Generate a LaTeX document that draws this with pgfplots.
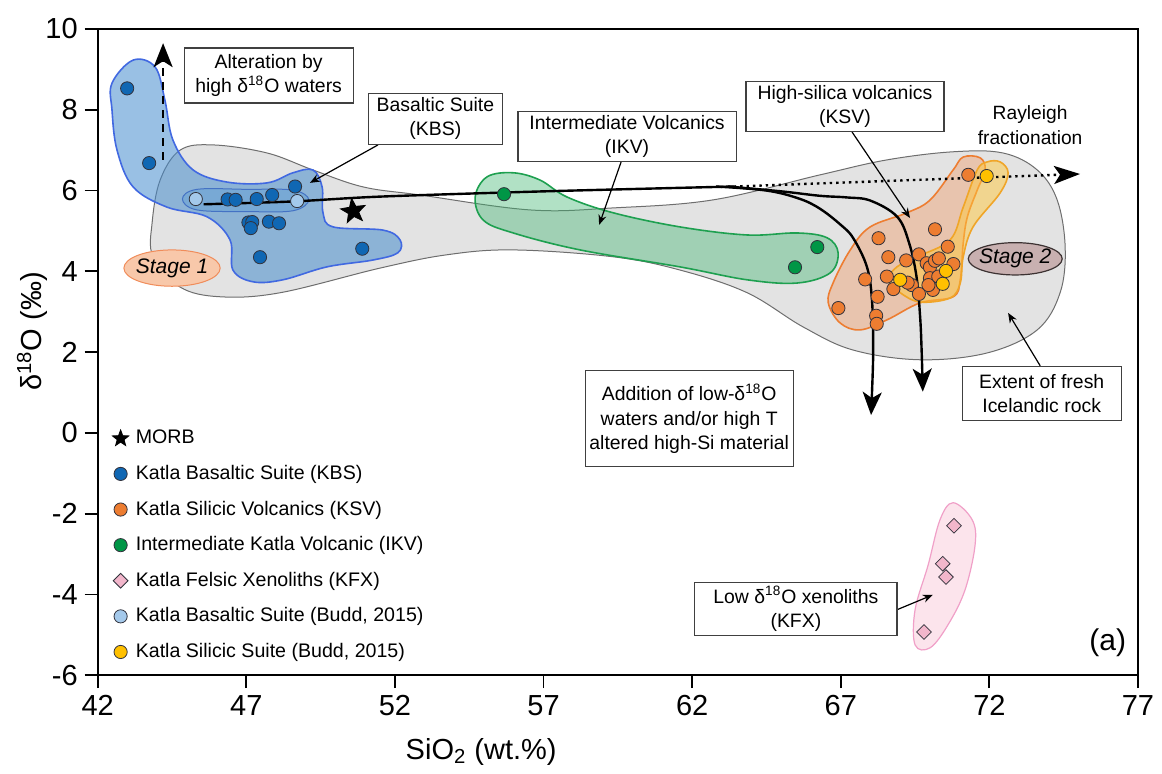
\documentclass[border=0pt]{standalone}
\usepackage{fontspec}
\setmainfont{Liberation Sans}
\usepackage{pgfplots}
\pgfplotsset{compat=1.18}
\usetikzlibrary{arrows.meta}

\definecolor{kbs}{RGB}{16,103,179}
\definecolor{ksv}{RGB}{237,125,49}
\definecolor{ikv}{RGB}{0,150,70}
\definecolor{kfx}{RGB}{242,182,203}
\definecolor{buddb}{RGB}{164,201,235}
\definecolor{budds}{RGB}{255,192,0}
\definecolor{mkline}{RGB}{50,50,60}

\pgfdeclareplotmark{fstar}{%
  \pgfpathmoveto{\pgfpointpolar{90}{\pgfplotmarksize}}%
  \pgfpathlineto{\pgfpointpolar{126}{0.42\pgfplotmarksize}}%
  \pgfpathlineto{\pgfpointpolar{162}{\pgfplotmarksize}}%
  \pgfpathlineto{\pgfpointpolar{198}{0.42\pgfplotmarksize}}%
  \pgfpathlineto{\pgfpointpolar{234}{\pgfplotmarksize}}%
  \pgfpathlineto{\pgfpointpolar{270}{0.42\pgfplotmarksize}}%
  \pgfpathlineto{\pgfpointpolar{306}{\pgfplotmarksize}}%
  \pgfpathlineto{\pgfpointpolar{342}{0.42\pgfplotmarksize}}%
  \pgfpathlineto{\pgfpointpolar{18}{\pgfplotmarksize}}%
  \pgfpathlineto{\pgfpointpolar{54}{0.42\pgfplotmarksize}}%
  \pgfpathclose\pgfusepathqfillstroke}

\tikzset{
  box/.style={draw=black!75, line width=0.6pt, fill=white, align=center,
    font=\fontsize{9.7}{12.2}\selectfont, inner sep=2pt},
  thinarrow/.style={line width=0.6pt, -{Stealth[length=5pt,width=4pt]}},
  bigarrow/.style={line width=1.2pt, -{Stealth[length=11.5pt,width=9.5pt,inset=3pt]}},
}

\begin{document}
\begin{tikzpicture}
\useasboundingbox (-48.85pt,-49pt) rectangle (532pt,337.5pt);
\begin{axis}[
  at={(0,0)}, anchor=south west,
  scale only axis, width=520pt, height=323pt,
  xmin=42, xmax=77, ymin=-6, ymax=10,
  xtick={42,47,52,57,62,67,72,77}, ytick={-6,-4,-2,0,2,4,6,8,10},
  xtick pos=bottom, ytick pos=left, tick align=outside,
  major tick length=6.5pt,
  axis line style={line width=0.9pt},
  every tick/.style={line width=0.9pt, black},
  ticklabel style={font=\fontsize{14.5}{16}\selectfont},
  /pgf/number format/assume math mode=true,
  clip=false,
  xlabel={SiO\textsubscript{2} (wt.\%)},
  ylabel={δ\textsuperscript{18}O (‰)},
  label style={font=\fontsize{14.5}{16}\selectfont},
  xlabel style={at={(axis description cs:0.3686,-0.119)}, anchor=center},
  ylabel style={at={(axis description cs:-0.063,0.532)}, anchor=center},
  legend style={at={(axis description cs:0.008,0.389)}, anchor=north west,
    draw=none, fill=none, font=\fontsize{9.8}{12}\selectfont,
    row sep=7.2pt, nodes={inner sep=1pt},
    /tikz/every odd column/.append style={column sep=2.5pt}},
  legend cell align=left,
  legend image code/.code={\draw[#1] plot coordinates {(5pt,0pt)};},
]

% ---------- envelopes ----------
\draw[fill={rgb,255:red,227;green,227;blue,227}, draw={rgb,255:red,110;green,110;blue,110}, line width=0.5pt]
  plot[smooth cycle, tension=0.6] coordinates {
  (44.10,6.26) (44.77,7.00) (45.88,7.13) (47.70,6.93) (49.24,6.51) (50.93,6.09)
  (52.85,5.89) (56.55,5.52) (59.34,5.57) (62.71,5.77) (66.31,6.39)
  (68.56,6.76) (70.78,6.96) (72.46,6.93) (73.61,6.51) (74.28,5.77) (74.55,4.60)
  (74.38,3.47) (73.61,2.55) (71.93,1.98) (69.67,1.81) (67.42,2.05) (65.74,2.62)
  (63.85,3.47) (61.6,4.03) (59.34,4.36) (55.98,4.53) (53.75,4.41) (51.5,4.08)
  (48.14,3.47) (46.12,3.37) (44.77,3.61) (43.86,4.36) (43.83,5.20)};

\draw[fill={rgb,255:red,248;green,200;blue,170}, draw={rgb,255:red,240;green,140;blue,90}, line width=0.5pt]
  (44.5,4.08) ellipse [x radius=1.62, y radius=0.45];
\node[font=\fontsize{10.5}{12}\selectfont\itshape] at (44.5,4.08) {Stage 1};

\draw[fill={rgb,255:red,70;green,140;blue,205}, fill opacity=0.55, draw={rgb,255:red,65;green,105;blue,225}, line width=0.8pt]
  plot[smooth cycle, tension=0.6] coordinates {
  (42.48,8.66) (43.19,9.23) (43.93,9.06) (44.26,8.24) (44.53,7.25) (45.21,6.51)
  (46.35,6.21) (47.70,6.19) (48.57,6.44) (49.24,6.51) (49.55,6.09) (49.58,5.45)
  (49.92,5.10) (51.60,5.02) (52.17,4.78) (52.10,4.46) (51.26,4.28) (49.71,4.11)
  (48.23,3.79) (47.23,3.74) (46.55,4.03) (46.45,4.78) (45.68,5.35) (44.33,5.59)
  (43.19,6.09) (42.65,7.00) (42.48,8.00)};

\draw[fill={rgb,255:red,91;green,155;blue,213}, fill opacity=0.4, draw={rgb,255:red,68;green,114;blue,196}, line width=0.5pt]
  plot[smooth cycle, tension=0.6] coordinates {
  (44.85,5.79) (45.34,6.03) (47.02,6.03) (48.57,6.01) (49.10,5.77) (48.57,5.50)
  (47.02,5.48) (45.34,5.52)};

\draw[fill={rgb,255:red,60;green,180;blue,110}, fill opacity=0.4, draw={rgb,255:red,30;green,160;blue,80}, line width=0.8pt]
  plot[smooth cycle, tension=0.6] coordinates {
  (54.70,5.84) (55.10,6.34) (55.98,6.44) (56.88,6.26) (57.79,5.84) (59.34,5.45)
  (61.59,5.10) (63.85,4.90) (65.53,4.95) (66.54,4.83) (66.91,4.46) (66.64,3.96)
  (65.53,3.71) (63.85,3.79) (61.59,4.11) (58.23,4.53) (55.98,4.95) (54.97,5.27)};

\draw[fill={rgb,255:red,240;green,160;blue,110}, fill opacity=0.45, draw=ksv, line width=0.8pt]
  plot[smooth cycle, tension=0.6] coordinates {
  (71.12,6.83) (71.69,6.81) (71.86,6.51) (71.59,6.01) (71.26,5.35) (71.12,4.70)
  (71.02,3.79) (70.78,3.37) (69.67,3.22) (68.56,2.80) (67.65,2.55) (66.98,2.72)
  (66.58,3.22) (66.74,3.71) (67.32,4.53) (67.99,5.10) (69.23,5.45) (70.01,5.77)
  (70.78,6.51)};

\draw[fill={rgb,255:red,255;green,200;blue,60}, fill opacity=0.5, draw={rgb,255:red,240;green,165;blue,40}, line width=0.8pt]
  plot[smooth cycle, tension=0.6] coordinates {
  (72.36,6.71) (72.63,6.44) (72.36,5.94) (71.45,5.10) (71.12,4.36) (71.02,3.71)
  (70.68,3.34) (69.67,3.24) (69.0,3.47) (68.59,3.79) (68.89,4.11) (69.56,4.36)
  (70.68,4.78) (71.12,5.59) (71.59,6.51) (71.93,6.71)};

\draw[fill={rgb,255:red,252;green,228;blue,236}, draw={rgb,255:red,240;green,160;blue,200}, line width=0.6pt]
  plot[smooth cycle, tension=0.6] coordinates {
  (70.78,-1.73) (71.42,-2.15) (71.52,-2.77) (71.18,-3.89) (70.61,-4.75)
  (70.01,-5.32) (69.50,-5.25) (69.50,-4.38) (69.94,-3.27) (70.34,-2.15)};

\draw[fill={rgb,255:red,200;green,176;blue,176}, draw={rgb,255:red,60;green,50;blue,50}, line width=0.6pt]
  (72.87,4.31) ellipse [x radius=1.58, y radius=0.40];
\node[font=\fontsize{10.5}{12}\selectfont\itshape] at (72.87,4.31) {Stage 2};

% ---------- trend lines ----------
\draw[line width=1.2pt] plot[smooth] coordinates {(45.56,5.66) (48.57,5.73) (51.5,5.85) (57.0,5.98) (63.4,6.10)};
\draw[bigarrow] plot[smooth, tension=0.6] coordinates {
  (62.8,6.1) (64.5,6.0) (65.6,5.8) (66.3,5.55) (67.0,5.15) (67.42,4.82) (67.88,4.11)
  (68.05,3.29) (68.09,2.05) (68.05,0.98) (68.02,0.44)};
\draw[bigarrow] plot[smooth, tension=0.6] coordinates {
  (63.2,6.1) (65.0,5.98) (66.3,5.87) (67.2,5.83) (68.0,5.75) (68.9,5.35) (69.3,4.70)
  (69.55,3.86) (69.67,2.87) (69.72,2.05) (69.76,1.02)};
\draw[line width=1.2pt, dotted, -{Stealth[length=13pt,width=9pt,inset=3pt]}] (63.4,6.10) -- (75.05,6.41);
\draw[line width=1pt, dash pattern=on 4pt off 3pt, -{Stealth[length=12pt,width=9.5pt,inset=3pt]}] (44.2,6.76) -- (44.2,9.65);

% ---------- annotation boxes ----------
\node[box, minimum width=84.5pt, minimum height=27.5pt] at (47.75,8.85) {Alteration by\\high δ\textsuperscript{18}O waters};
\draw[thinarrow] (51.43,7.13) -- (49.14,6.19);
\node[box, minimum width=67pt, minimum height=25.5pt] at (53.36,7.78) {Basaltic Suite\\(KBS)};
\draw[thinarrow] (59.61,6.71) -- (58.87,5.15);
\node[box, minimum width=109pt, minimum height=24.5pt] at (59.81,7.34) {Intermediate Volcanics\\(IKV)};
\draw[thinarrow] (67.38,7.45) -- (69.33,5.32);
\node[box, minimum width=99pt, minimum height=24.5pt] at (67.14,8.08) {High-silica volcanics\\(KSV)};
\node[align=center, font=\fontsize{9.6}{12.2}\selectfont] at (73.37,7.62) {Rayleigh\\fractionation};
\node[box, minimum width=104pt, minimum height=48pt] at (61.9,0.35) {Addition of low-δ\textsuperscript{18}O\\waters and/or high T\\altered high-Si material};
\draw[thinarrow] (73.71,1.66) -- (72.63,2.97);
\node[box, minimum width=79.5pt, minimum height=27pt] at (73.76,0.97) {Extent of fresh\\Icelandic rock};
\draw[thinarrow] (68.89,-4.38) -- (70.1,-4.01);
\node[box, minimum width=101pt, minimum height=26pt] at (65.49,-4.36) {Low δ\textsuperscript{18}O xenoliths\\(KFX)};
\node[font=\fontsize{15}{17}\selectfont, anchor=center] at (axis description cs:0.971,0.0495) {(a)};

% ---------- legend images ----------
\addlegendimage{only marks, mark=fstar, mark size=4.3pt, fill=black, draw=black}
\addlegendentry{MORB}
\addlegendimage{only marks, mark=*, mark size=3.3pt, fill=kbs, draw=mkline, line width=0.4pt}
\addlegendentry{Katla Basaltic Suite (KBS)}
\addlegendimage{only marks, mark=*, mark size=3.3pt, fill=ksv, draw=mkline, line width=0.4pt}
\addlegendentry{Katla Silicic Volcanics (KSV)}
\addlegendimage{only marks, mark=*, mark size=3.3pt, fill=ikv, draw=mkline, line width=0.4pt}
\addlegendentry{Intermediate Katla Volcanic (IKV)}
\addlegendimage{only marks, mark=square*, mark size=2.6pt, mark options={rotate=45}, fill=kfx, draw=mkline, line width=0.4pt}
\addlegendentry{Katla Felsic Xenoliths (KFX)}
\addlegendimage{only marks, mark=*, mark size=3.3pt, fill=buddb, draw=mkline, line width=0.4pt}
\addlegendentry{Katla Basaltic Suite (Budd, 2015)}
\addlegendimage{only marks, mark=*, mark size=3.3pt, fill=budds, draw=mkline, line width=0.4pt}
\addlegendentry{Katla Silicic Suite (Budd, 2015)}

% ---------- data ----------
\addplot[forget plot, only marks, mark=fstar, mark size=6.5pt, fill=black, draw=black, mark options={rotate=8}]
  coordinates {(50.6,5.49)};
\addplot[forget plot, only marks, mark=*, mark size=3.3pt, fill=kbs, draw=mkline, line width=0.4pt]
  coordinates {(42.99,8.53) (43.73,6.68) (48.64,6.10) (46.37,5.78) (46.64,5.77) (47.35,5.79)
  (47.87,5.89) (47.07,5.21) (47.2,5.22) (47.15,5.07) (47.76,5.23) (48.1,5.19) (47.46,4.35) (50.9,4.56)};
\addplot[forget plot, only marks, mark=*, mark size=3.3pt, fill=buddb, draw=mkline, line width=0.4pt]
  coordinates {(45.3,5.79) (48.71,5.74)};
\addplot[forget plot, only marks, mark=*, mark size=3.3pt, fill=ikv, draw=mkline, line width=0.4pt]
  coordinates {(55.67,5.91) (66.21,4.60) (65.46,4.10)};
\addplot[forget plot, only marks, mark=*, mark size=3.3pt, fill=ksv, draw=mkline, line width=0.4pt]
  coordinates {(71.29,6.39) (70.17,5.04) (68.27,4.82) (70.6,4.61) (68.6,4.35) (69.2,4.27)
  (69.63,4.42) (69.89,4.20) (70.0,4.10) (70.17,4.26) (70.3,4.32) (70.79,4.18) (70.0,3.83)
  (70.1,3.54) (69.95,3.66) (70.28,3.87) (68.55,3.87) (69.39,3.66) (69.25,3.72) (68.77,3.56)
  (69.63,3.44) (67.82,3.80) (68.24,3.37) (68.19,2.90) (68.21,2.70) (66.92,3.09)};
\addplot[forget plot, only marks, mark=*, mark size=3.3pt, fill=budds, draw=mkline, line width=0.4pt]
  coordinates {(71.91,6.36) (69.0,3.79) (70.54,4.01) (70.43,3.69)};
\addplot[forget plot, only marks, mark=square*, mark size=2.6pt, mark options={rotate=45}, fill=kfx, draw=mkline, line width=0.4pt]
  coordinates {(70.81,-2.30) (70.43,-3.24) (70.54,-3.57) (69.8,-4.93)};

\end{axis}
\end{tikzpicture}
\end{document}
